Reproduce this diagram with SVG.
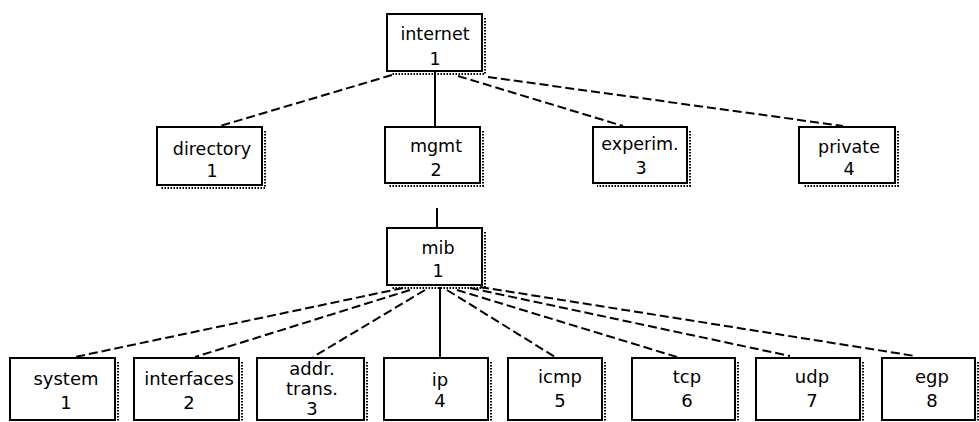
<svg xmlns="http://www.w3.org/2000/svg" width="979" height="422" viewBox="0 0 979 422">
<style>
.box{fill:none;stroke:#000;stroke-width:2}
.sh{fill:none;stroke:#000;stroke-width:2;stroke-dasharray:1.5 1.5}
.t{font-family:"DejaVu Sans",sans-serif;font-size:17.5px;fill:#000;text-anchor:middle}
.b{font-size:18px}
.d{fill:none;stroke:#000;stroke-width:2;stroke-dasharray:9 4}
.s{fill:none;stroke:#000;stroke-width:2}
</style>
<rect width="979" height="422" fill="#fff"/>
<g id="connectors">
<path class="d" d="M392,75 L220,126"/>
<path class="s" d="M435,71 L435,127"/>
<path class="d" d="M458,76 L623,126"/>
<path class="d" d="M488,77 L843,126"/>
<path class="s" d="M437,208 L437,228"/>
<path class="d" d="M403,288 L75,357"/>
<path class="d" d="M410,290 L195,357"/>
<path class="d" d="M425,290 L313,357"/>
<path class="s" d="M440,287 L440,358"/>
<path class="d" d="M447,290 L555,357"/>
<path class="d" d="M457,290 L677,357"/>
<path class="d" d="M470,288 L790,356"/>
<path class="d" d="M480,287 L915,356"/>
</g>
<g id="internet"><rect class="box" x="387" y="14" width="95" height="57"/><path class="sh" d="M485,18 V74 H391"/><text class="t" x="435" y="40">internet</text><text class="t" x="435" y="65">1</text></g>
<g id="directory"><rect class="box" x="157" y="127" width="105" height="58"/><path class="sh" d="M265,131 V188 H161"/><text class="t" x="212" y="155">directory</text><text class="t" x="212" y="177">1</text></g>
<g id="mgmt"><rect class="box" x="385" y="127" width="95" height="56"/><path class="sh" d="M483,131 V186 H389"/><text class="t" x="436" y="152">mgmt</text><text class="t" x="436" y="176">2</text></g>
<g id="experim"><rect class="box" x="593" y="127" width="94" height="56"/><path class="sh" d="M690,131 V186 H597"/><text class="t" x="640" y="150">experim.</text><text class="t" x="641" y="174">3</text></g>
<g id="private"><rect class="box" x="799" y="127" width="96" height="56"/><path class="sh" d="M898,131 V186 H803"/><text class="t" x="849" y="153">private</text><text class="t" x="849" y="175">4</text></g>
<g id="mib"><rect class="box" x="387" y="228" width="95" height="57"/><path class="sh" d="M485,232 V288 H391"/><text class="t" x="438" y="254">mib</text><text class="t" x="438" y="277">1</text></g>
<g id="system"><rect class="box" x="10" y="358" width="105" height="62"/><path class="sh" d="M118,362 V423 H14"/><text class="t b" x="66" y="385">system</text><text class="t b" x="66" y="409">1</text></g>
<g id="interfaces"><rect class="box" x="134" y="358" width="105" height="62"/><path class="sh" d="M242,362 V423 H138"/><text class="t b" x="189" y="385">interfaces</text><text class="t b" x="189" y="409">2</text></g>
<g id="addrtrans"><rect class="box" x="257" y="358" width="107" height="62"/><path class="sh" d="M367,362 V423 H261"/><text class="t b" x="312" y="375">addr.</text><text class="t b" x="312" y="395">trans.</text><text class="t b" x="312" y="415">3</text></g>
<g id="ip"><rect class="box" x="384" y="358" width="104" height="62"/><path class="sh" d="M491,362 V423 H388"/><text class="t b" x="440" y="386">ip</text><text class="t b" x="440" y="407">4</text></g>
<g id="icmp"><rect class="box" x="508" y="358" width="94" height="62"/><path class="sh" d="M605,362 V423 H512"/><text class="t b" x="560" y="383">icmp</text><text class="t b" x="560" y="407">5</text></g>
<g id="tcp"><rect class="box" x="632" y="358" width="103" height="62"/><path class="sh" d="M738,362 V423 H636"/><text class="t b" x="687" y="383">tcp</text><text class="t b" x="687" y="407">6</text></g>
<g id="udp"><rect class="box" x="756" y="358" width="104" height="62"/><path class="sh" d="M863,362 V423 H760"/><text class="t b" x="812" y="383">udp</text><text class="t b" x="812" y="407">7</text></g>
<g id="egp"><rect class="box" x="882" y="358" width="93" height="62"/><path class="sh" d="M978,362 V423 H886"/><text class="t b" x="932" y="383">egp</text><text class="t b" x="932" y="407">8</text></g>
</svg>
